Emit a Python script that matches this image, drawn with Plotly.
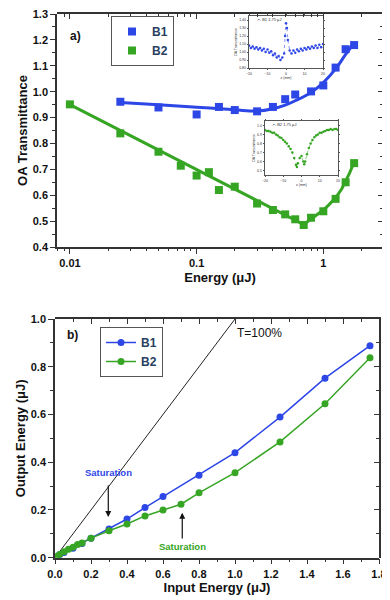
import plotly.graph_objects as go

# panel a) OA transmittance vs energy
b1_e = [0.025, 0.05, 0.1, 0.15, 0.2, 0.3, 0.4, 0.5, 0.6, 0.8, 1.0, 1.25, 1.5, 1.75]
b1_t = [0.961, 0.939, 0.912, 0.941, 0.929, 0.924, 0.941, 0.971, 0.989, 1.001, 1.024, 1.093, 1.164, 1.18]
b2_e = [0.01, 0.025, 0.05, 0.075, 0.1, 0.125, 0.15, 0.2, 0.3, 0.4, 0.5, 0.6, 0.7, 0.8, 1.0, 1.25, 1.5, 1.75]
b2_t = [0.951, 0.839, 0.768, 0.714, 0.676, 0.689, 0.62, 0.633, 0.568, 0.543, 0.526, 0.507, 0.485, 0.513,
        0.538, 0.586, 0.65, 0.724]

b1_fit_e = [0.025, 0.05, 0.1, 0.2, 0.3, 0.4, 0.5, 0.6, 0.8, 1.0, 1.25, 1.5, 1.75]
b1_fit_t = [0.958, 0.949, 0.94, 0.93, 0.925, 0.934, 0.948, 0.965, 0.997, 1.035, 1.088, 1.144, 1.188]
b2_fit_e = [0.01, 0.7, 0.8, 0.9, 1.0, 1.1, 1.25, 1.4, 1.5, 1.6, 1.75]
b2_fit_t = [0.95, 0.487, 0.508, 0.525, 0.543, 0.562, 0.59, 0.625, 0.652, 0.682, 0.728]

# insets: z-scans at 1.75 uJ
z_b1 = [-20, -19, -18, -17, -16, -15, -14, -13, -12, -11, -10, -9, -8, -7, -6, -5, -4, -3, -2, -1,
        -0.5, 0, 0.5, 1, 2, 3, 4, 5, 6, 7, 8, 9, 10, 11, 12, 13, 14, 15, 16, 17, 18, 19, 20]
t_b1 = [1.08, 1.05, 1.07, 1.04, 1.06, 1.03, 1.05, 1.02, 1.04, 1.0, 1.03, 0.99, 1.01, 0.96, 0.98, 0.93,
        0.95, 0.9, 0.93, 0.98, 1.2, 1.36, 1.3, 1.15, 1.02, 0.98, 1.02, 0.99, 1.03, 1.01, 1.04, 1.02,
        1.05, 1.03, 1.06, 1.04, 1.07, 1.05, 1.08, 1.05, 1.09, 1.06, 1.1]
z_b2 = [-20, -19, -18, -17, -16, -15, -14, -13, -12, -11, -10, -9, -8, -7, -6, -5, -4, -3, -2.5, -2,
        -1, 0, 1, 1.5, 2, 3, 4, 5, 6, 7, 8, 9, 10, 11, 12, 13, 14, 15, 16, 17, 18, 19, 20]
t_b2 = [0.95, 0.94, 0.94, 0.93, 0.92, 0.92, 0.9, 0.89, 0.87, 0.86, 0.84, 0.82, 0.8, 0.77, 0.74, 0.7,
        0.64, 0.56, 0.54, 0.58, 0.64, 0.66, 0.6, 0.57, 0.6, 0.68, 0.75, 0.8, 0.84, 0.87, 0.89, 0.9,
        0.92, 0.92, 0.93, 0.94, 0.95, 0.95, 0.96, 0.95, 0.96, 0.96, 0.95]

# panel b) output vs input energy
b1_in = [0.025, 0.05, 0.1, 0.15, 0.2, 0.3, 0.4, 0.5, 0.6, 0.8, 1.0, 1.25, 1.5, 1.75]
b1_out = [0.012, 0.022, 0.04, 0.06, 0.082, 0.12, 0.162, 0.21, 0.256, 0.345, 0.44, 0.589, 0.752, 0.888]
b2_in = [0.01, 0.025, 0.05, 0.075, 0.1, 0.125, 0.15, 0.2, 0.3, 0.4, 0.5, 0.6, 0.7, 0.8, 1.0, 1.25, 1.5, 1.75]
b2_out = [0.005, 0.013, 0.025, 0.035, 0.044, 0.055, 0.062, 0.082, 0.113, 0.141, 0.175, 0.2, 0.224, 0.272,
          0.356, 0.485, 0.645, 0.838]
t100_in = [0, 1.0]
t100_out = [0, 1.0]

BLUE = "#2d46e6"
GREEN = "#36a524"
AX = "#333333"
FONT = "Liberation Sans, Arial, sans-serif"

# page has an 8px body margin, so the figure is 8px smaller and shifted
W, H = 382, 592


def px(x):
    return (x - 8) / W


def py(y):
    return 1 - (y - 8) / H


XA = [px(57), px(383)]
YA = [py(247), py(14)]
XB = [px(55), px(379)]
YB = [py(557.7), py(319)]
E_RANGE = [-2.102, 0.471]
log_minor = [v * m for v in (0.001, 0.01, 0.1, 1) for m in range(2, 10)]

fig = go.Figure()

# panel a
fig.add_trace(go.Scatter(x=b1_fit_e, y=b1_fit_t, mode="lines", line=dict(color=BLUE, width=3, shape="spline"),
                         showlegend=False, xaxis="x", yaxis="y"))
fig.add_trace(go.Scatter(x=b2_fit_e, y=b2_fit_t, mode="lines", line=dict(color=GREEN, width=3),
                         showlegend=False, xaxis="x", yaxis="y"))
fig.add_trace(go.Scatter(x=b1_e, y=b1_t, mode="markers", name="B1", legend="legend",
                         marker=dict(symbol="square", size=8, color=BLUE), xaxis="x", yaxis="y"))
fig.add_trace(go.Scatter(x=b2_e, y=b2_t, mode="markers", name="B2", legend="legend",
                         marker=dict(symbol="square", size=8, color=GREEN), xaxis="x", yaxis="y"))

# insets
fig.add_trace(go.Scatter(x=z_b1, y=t_b1, mode="lines+markers", showlegend=False,
                         line=dict(color=BLUE, width=0.6, dash="dot"), marker=dict(size=2.5, color=BLUE),
                         xaxis="x3", yaxis="y3"))
fig.add_trace(go.Scatter(x=z_b2, y=t_b2, mode="lines+markers", showlegend=False,
                         line=dict(color=GREEN, width=0.6, dash="dot"), marker=dict(size=2.5, color=GREEN),
                         xaxis="x4", yaxis="y4"))

# panel b
fig.add_trace(go.Scatter(x=t100_in, y=t100_out, mode="lines", line=dict(color="#222222", width=1),
                         showlegend=False, xaxis="x2", yaxis="y2"))
fig.add_trace(go.Scatter(x=b1_in, y=b1_out, mode="lines+markers", name="B1", legend="legend2",
                         line=dict(color=BLUE, width=1.5), marker=dict(size=7, color=BLUE),
                         xaxis="x2", yaxis="y2"))
fig.add_trace(go.Scatter(x=b2_in, y=b2_out, mode="lines+markers", name="B2", legend="legend2",
                         line=dict(color=GREEN, width=1.5), marker=dict(size=7, color=GREEN),
                         xaxis="x2", yaxis="y2"))

# empty traces so the frame-only subplots (inward ticks on top/right, log minor ticks) get drawn
for xa, ya in (("x5", "y5"), ("x6", "y6"), ("x7", "y5"), ("x8", "y7")):
    fig.add_trace(go.Scatter(x=[], y=[], xaxis=xa, yaxis=ya, showlegend=False, hoverinfo="skip"))

tick_font = dict(family=FONT, size=11, color="#111111", weight="bold")
title_font = dict(family=FONT, size=13, color="#111111", weight="bold")
base_axis = dict(showline=True, linecolor=AX, linewidth=1.5, showgrid=False, zeroline=False,
                 automargin=False, ticks="outside", ticklen=5, tickwidth=1.2, tickcolor=AX, tickfont=tick_font,
                 ticklabeloverflow="allow")
frame_axis = dict(showline=True, linecolor=AX, linewidth=1.5, ticks="inside", ticklen=5, tickwidth=1.2,
                  tickcolor=AX, showticklabels=False, showgrid=False, zeroline=False, automargin=False,
                  fixedrange=True)
inset_font = dict(family=FONT, size=3.5, color="#333333")
inset_axis = dict(showline=True, mirror="ticks", linecolor="#555555", linewidth=0.7, showgrid=False,
                  zeroline=False, ticks="outside", ticklen=1.5, tickwidth=0.5, tickcolor="#555555",
                  tickfont=inset_font, automargin=False)

fig.update_layout(
    width=W, height=H, plot_bgcolor="rgba(0,0,0,0)", paper_bgcolor="white",
    margin=dict(l=0, r=0, t=0, b=0, autoexpand=False),
    font=dict(family=FONT),
    xaxis=dict(base_axis, type="log", domain=XA, anchor="y", range=E_RANGE,
               tickvals=[0.01, 0.1, 1], ticktext=["0.01", "0.1", "1"],
               title=dict(text="Energy (μJ)", font=title_font, standoff=5)),
    yaxis=dict(base_axis, domain=YA, anchor="x", range=[0.4, 1.3], dtick=0.1, tickformat=".1f",
               minor=dict(dtick=0.05, ticks="outside", ticklen=3, tickcolor=AX),
               title=dict(text="OA Transmittance", font=title_font, standoff=2)),
    # top / right frame of panel a with inward ticks
    xaxis5=dict(frame_axis, type="log", domain=XA, anchor="y5", side="top", range=E_RANGE,
                tickvals=[0.01, 0.1, 1]),
    yaxis5=dict(frame_axis, domain=YA, anchor="x5", side="right", range=[0.4, 1.3], dtick=0.1,
                minor=dict(dtick=0.05, ticks="inside", ticklen=3, tickcolor=AX)),
    xaxis7=dict(frame_axis, type="log", domain=XA, anchor="y5", side="top", range=E_RANGE,
                tickvals=log_minor, ticklen=3, showline=False),
    # log minor ticks on the bottom of panel a
    xaxis8=dict(frame_axis, type="log", domain=XA, anchor="y7", side="bottom", range=E_RANGE,
                tickvals=log_minor, ticks="outside", ticklen=3, showline=False),
    yaxis7=dict(domain=YA, anchor="x8", range=[0.4, 1.3], visible=False, fixedrange=True),
    xaxis2=dict(base_axis, domain=XB, anchor="y2", range=[0, 1.8], dtick=0.2, tickformat=".1f",
                minor=dict(dtick=0.1, ticks="outside", ticklen=3, tickcolor=AX),
                title=dict(text="Input Energy (μJ)", font=title_font, standoff=4)),
    yaxis2=dict(base_axis, domain=YB, anchor="x2", range=[0, 1.0], dtick=0.2,
                tickformat=".1f", minor=dict(dtick=0.1, ticks="outside", ticklen=3, tickcolor=AX),
                title=dict(text="Output Energy (μJ)", font=title_font, standoff=2)),
    xaxis6=dict(frame_axis, domain=XB, anchor="y6", side="top", range=[0, 1.8], dtick=0.2,
                minor=dict(dtick=0.1, ticks="inside", ticklen=3, tickcolor=AX)),
    yaxis6=dict(frame_axis, domain=YB, anchor="x6", side="right", range=[0, 1.0], dtick=0.2,
                minor=dict(dtick=0.1, ticks="inside", ticklen=3, tickcolor=AX)),
    xaxis3=dict(inset_axis, domain=[px(249), px(323)], anchor="y3", range=[-20, 20], dtick=10,
                title=dict(text="z (mm)", font=inset_font, standoff=1)),
    yaxis3=dict(inset_axis, domain=[py(68), py(16)], anchor="x3", range=[0.8, 1.45], dtick=0.1,
                tickformat=".2f", title=dict(text="OA Transmittance", font=inset_font, standoff=1)),
    xaxis4=dict(inset_axis, domain=[px(265), px(338)], anchor="y4", range=[-20, 20], dtick=10,
                title=dict(text="z (mm)", font=inset_font, standoff=1)),
    yaxis4=dict(inset_axis, domain=[py(175), py(121)], anchor="x4", range=[0.45, 1.05], dtick=0.1,
                tickformat=".1f", title=dict(text="OA Transmittance", font=inset_font, standoff=1)),
    legend=dict(x=px(111), y=py(16), xanchor="left", yanchor="top", bgcolor="white",
                bordercolor="#555555", borderwidth=1, font=dict(family=FONT, size=12, weight="bold"),
                tracegroupgap=0),
    legend2=dict(x=px(100), y=py(327), xanchor="left", yanchor="top", bgcolor="white",
                 bordercolor="#555555", borderwidth=1, font=dict(family=FONT, size=12, weight="bold"),
                 tracegroupgap=0),
)

annotations = [
    dict(text="<b>a)</b>", xref="paper", yref="paper", x=px(68), y=py(27), showarrow=False,
         font=dict(family=FONT, size=12, color="#111111")),
    dict(text="<b>b)</b>", xref="paper", yref="paper", x=px(65), y=py(335), showarrow=False,
         font=dict(family=FONT, size=12, color="#111111")),
    dict(text="T=100%", xref="x2", yref="y2", x=1.0, y=0.94, xanchor="left", showarrow=False,
         font=dict(family=FONT, size=12, color="#111111")),
    dict(text="<b>Saturation</b>", xref="x2", yref="y2", x=0.296, y=0.355, showarrow=False,
         font=dict(family=FONT, size=9.5, color=BLUE)),
    dict(text="", xref="x2", yref="y2", x=0.296, y=0.17, ax=0.296, ay=0.309, axref="x2", ayref="y2",
         showarrow=True, arrowhead=2, arrowsize=1, arrowwidth=1.2, arrowcolor="#111111"),
    dict(text="<b>Saturation</b>", xref="x2", yref="y2", x=0.706, y=0.046, showarrow=False,
         font=dict(family=FONT, size=9.5, color=GREEN)),
    dict(text="", xref="x2", yref="y2", x=0.707, y=0.188, ax=0.707, ay=0.074, axref="x2", ayref="y2",
         showarrow=True, arrowhead=2, arrowsize=1, arrowwidth=1.2, arrowcolor="#111111"),
    dict(text="-▪- B1 1.75 μJ", xref="x3", yref="y3", x=-17, y=1.41, xanchor="left", showarrow=False,
         font=dict(family=FONT, size=4, color="#333333")),
    dict(text="-▪- B2 1.75 μJ", xref="x4", yref="y4", x=-17, y=1.01, xanchor="left", showarrow=False,
         font=dict(family=FONT, size=4, color="#333333")),
]
fig.update_layout(annotations=annotations)

fig.write_html("out.html")
